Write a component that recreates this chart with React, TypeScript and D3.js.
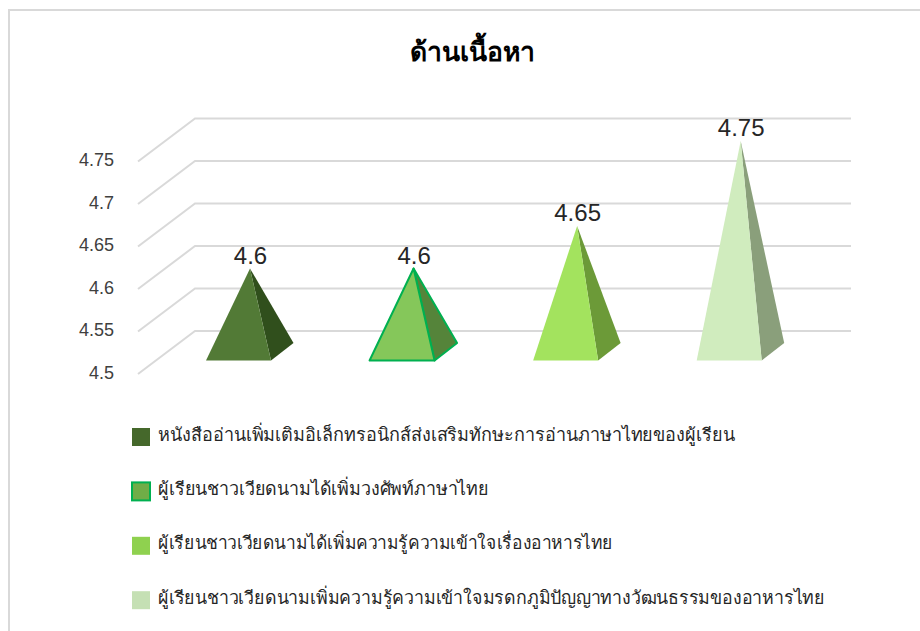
import React from "react";
import * as d3 from "d3";

const categories = [
  "หนังสืออ่านเพิ่มเติมอิเล็กทรอนิกส์ส่งเสริมทักษะการอ่านภาษาไทยของผู้เรียน",
  "ผู้เรียนชาวเวียดนามได้เพิ่มวงศัพท์ภาษาไทย",
  "ผู้เรียนชาวเวียดนามได้เพิ่มความรู้ความเข้าใจเรื่องอาหารไทย",
  "ผู้เรียนชาวเวียดนามเพิ่มความรู้ความเข้าใจมรดกภูมิปัญญาทางวัฒนธรรมของอาหารไทย",
];
const values = [4.6, 4.6, 4.65, 4.75];
const valueLabels = ["4.6", "4.6", "4.65", "4.75"];
const yTicks = [4.5, 4.55, 4.6, 4.65, 4.7, 4.75];
const yTickLabels = ["4.5", "4.55", "4.6", "4.65", "4.7", "4.75"];
const frontColors = ["#527a36", "#85c75a", "#a3e35e", "#d0ecbe"];
const sideColors = ["#304f1c", "#55843a", "#6c9a38", "#8a9f7b"];
const legendColors = ["#45682b", "#70ad47", "#8fd14f", "#c5e0b4"];
const strokes = ["none", "#00b050", "none", "none"];
const legendTextWidths = [577, 331, 455, 667];
const thaiFont = "'Noto Sans', sans-serif";
const digitFont = "'Liberation Sans', sans-serif";

export default function App() {
  // Value axis of the front wall; the gridlines recede from it into the back wall.
  const y = d3.scaleLinear().domain([4.5, 4.75]).range([374, 161.5]);
  const x = d3.scalePoint<number>().domain([0, 1, 2, 3]).range([206, 696.7]);
  const depthX = 57;
  const depthY = -43;
  const pyramidWidth = 65;
  const baseY = 360.5;
  const backY = 343;
  const backOffset = 22.5;
  const apexOffset = 44;
  const apexLift = 20.5;
  return (
    <svg width={920} height={631} style={{ position: "absolute", left: 0, top: 0, background: "#fff" }}>
      <path d="M9,631 V10 H920" fill="none" stroke="#d9d9d9" strokeWidth={2} />
      <text x={472} y={61} textAnchor="middle" fontSize={26.5} fontWeight={700} fill="#000" fontFamily={thaiFont}>ด้านเนื้อหา</text>
      {yTicks.map((t, i) => (
        <g key={t}>
          <polyline fill="none" stroke="#d9d9d9" strokeWidth={2}
            points={`${138},${y(t)} ${138 + depthX},${y(t) + depthY} ${851},${y(t) + depthY}`} />
          <text x={114} y={y(t) + 4.5} textAnchor="end" fontSize={18} fill="#404040" fontFamily={digitFont}>{yTickLabels[i]}</text>
        </g>
      ))}
      {values.map((v, i) => {
        const left = x(i)!;
        const right = left + pyramidWidth;
        const apexX = left + apexOffset;
        const apexY = y(v) - apexLift;
        return (
          <g key={i} stroke={strokes[i]} strokeWidth={2} strokeLinejoin="round">
            <polygon points={`${right},${baseY} ${right + backOffset},${backY} ${apexX},${apexY}`} fill={sideColors[i]} />
            <polygon points={`${left},${baseY} ${right},${baseY} ${apexX},${apexY}`} fill={frontColors[i]} />
            <text x={apexX + 0.5} y={apexY - 5} textAnchor="middle" fontSize={24} fill="#262626" stroke="none" fontFamily={digitFont}>{valueLabels[i]}</text>
          </g>
        );
      })}
      {categories.map((c, i) => {
        const top = 428 + i * 54.4;
        return (
          <g key={i}>
            <rect x={132} y={top} width={18} height={18} fill={legendColors[i]} stroke={strokes[i]} strokeWidth={2} />
            <text x={158} y={top + 12.5} fontSize={18.1} fill="#262626" fontFamily={thaiFont}
              textLength={legendTextWidths[i]} lengthAdjust="spacingAndGlyphs">{c}</text>
          </g>
        );
      })}
    </svg>
  );
}
